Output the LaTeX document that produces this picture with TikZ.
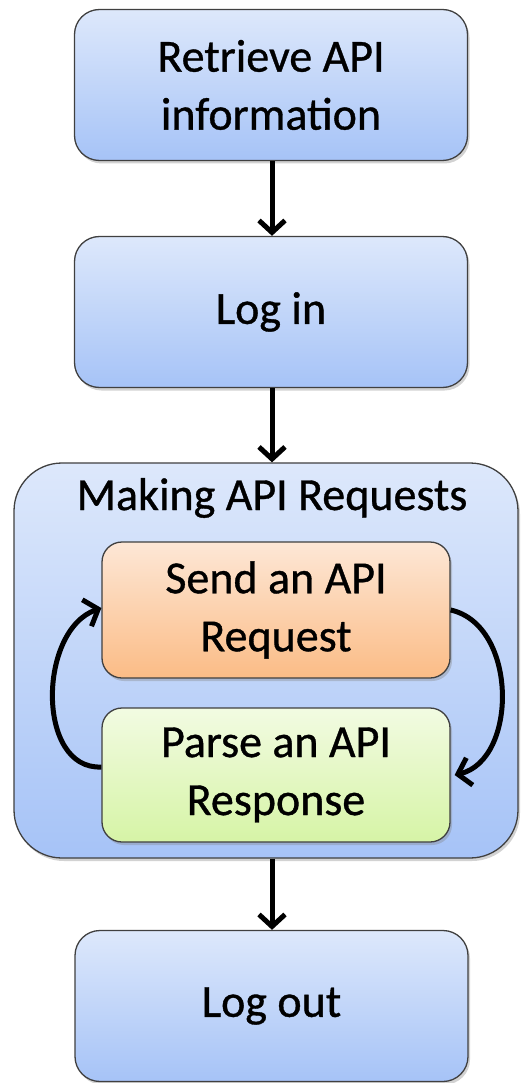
\documentclass[tikz,border=0pt]{standalone}
\usepackage{fontspec}
\setmainfont{Carlito}[FakeBold=0.8]
\usetikzlibrary{arrows.meta,shadows}
\begin{document}
\begin{tikzpicture}[x=1pt,y=-1pt,
  base/.style={draw=black!75, line width=1.3pt, align=center, inner sep=0pt,
    font=\fontsize{46}{58}\selectfont,
    drop shadow={shadow xshift=2pt, shadow yshift=-3pt, opacity=0.35}},
  bluebox/.style={base, rounded corners=25pt, minimum width=393pt, minimum height=151pt,
    top color=blue1, bottom color=blue2},
  outerbox/.style={base, rounded corners=48pt, minimum width=504pt, minimum height=395pt,
    top color=blue1, bottom color=blue2},
  sendbox/.style={base, rounded corners=20pt, minimum width=348pt, minimum height=136pt,
    top color=orange1, bottom color=orange2},
  parsebox/.style={base, rounded corners=20pt, minimum width=348pt, minimum height=134pt,
    top color=green1, bottom color=green2},
  flow/.style={line width=5pt, -{Straight Barb[length=12pt,width=26pt]}},
  loop/.style={line width=5pt, -{Straight Barb[length=12pt,width=28pt]}},
  title/.style={font=\fontsize{46}{58}\selectfont, inner sep=0pt}
]
\definecolor{blue1}{HTML}{DDE8FB}
\definecolor{blue2}{HTML}{A6C3F7}
\definecolor{orange1}{HTML}{FDE7D6}
\definecolor{orange2}{HTML}{FBBC86}
\definecolor{green1}{HTML}{F2FBE2}
\definecolor{green2}{HTML}{D6F4A6}
\useasboundingbox[fill=white] (0,0) rectangle (521,1083);
\node[bluebox] (retrieve) at (271,85) {Retrieve API\\information};
\node[bluebox] (login) at (271,312) {Log in};
\node[outerbox] (making) at (266,660.5) {};
\node[title] (mtitle) at (272,498) {Making API Requests};
\node[sendbox] (send) at (276,610) {Send an API\\Request};
\node[parsebox] (parse) at (276,775) {Parse an API\\Response};
\node[bluebox] (logout) at (271.5,1006) {Log out};
\draw[flow] (retrieve.south -| 272,0) -- (login.north -| 272,0);
\draw[flow] (login.south -| 272,0) -- (making.north -| 272,0);
\draw[flow] (making.south -| 272,0) -- (logout.north -| 272,0);
\draw[loop] ([yshift=8pt]parse.west) .. controls (36,770) and (38,630) .. ([yshift=2pt]send.west);
\draw[loop] ([yshift=0pt]send.east) .. controls (518,625) and (518,760) .. ([xshift=4pt,yshift=0pt]parse.east);
\end{tikzpicture}
\end{document}
